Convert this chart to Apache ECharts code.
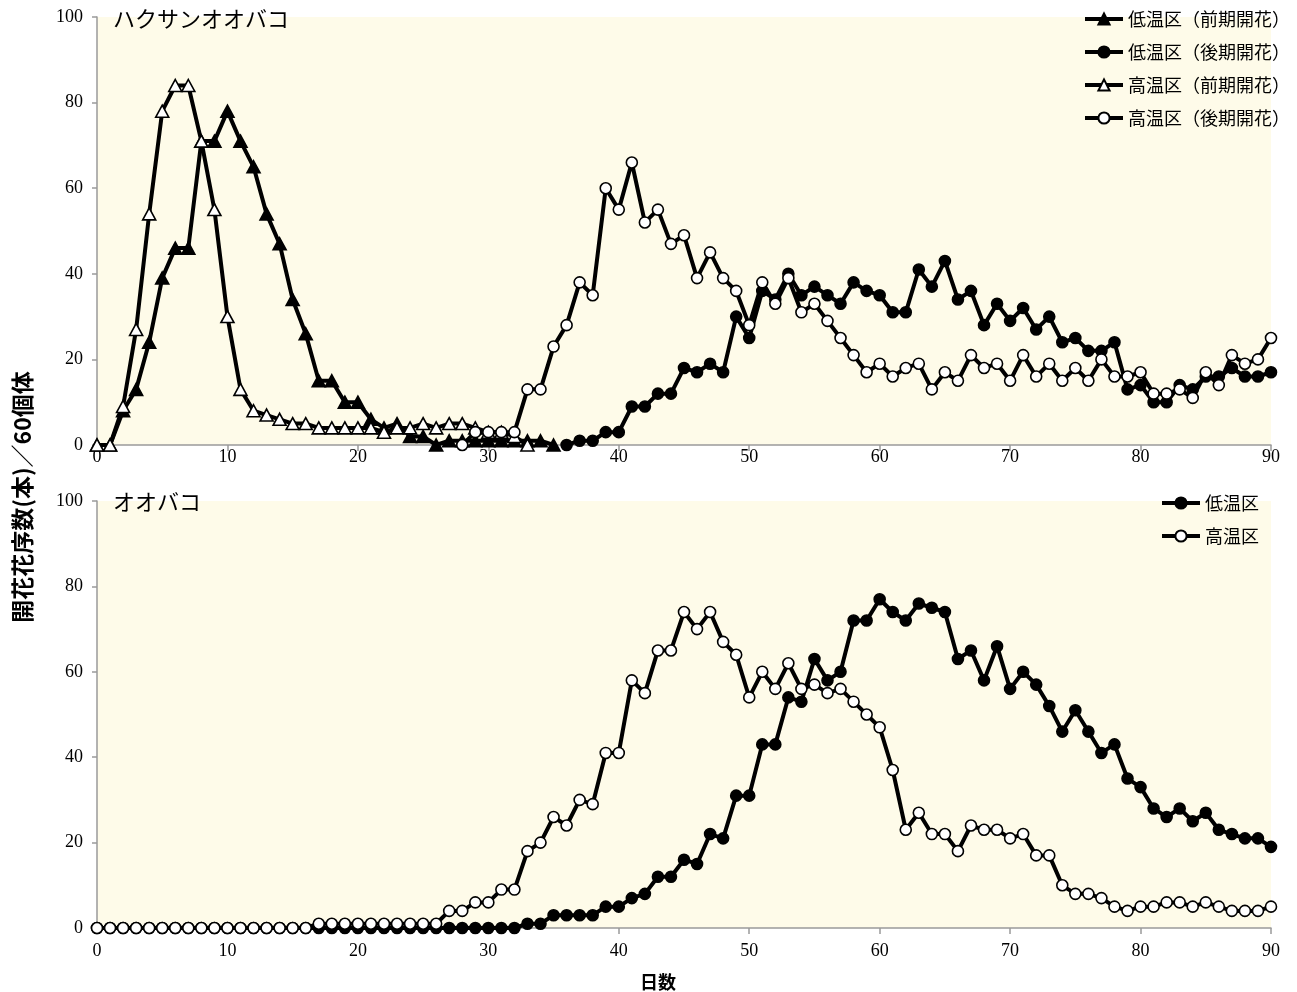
<!DOCTYPE html>
<html>
<head>
<meta charset="utf-8">
<title>開花花序数の推移</title>
<script src="https://cdn.jsdelivr.net/npm/echarts@6/dist/echarts.min.js"></script>
<style>
  html, body { margin: 0; padding: 0; background: #ffffff; }
  #chart { width: 1297px; height: 992px; }
</style>
</head>
<body>
<div id="chart"></div>
<script>
// ---- ハクサンオオバコ: flowering counts per day (start day + daily values) ----
const hakuLowEarlyStart = 0;
const hakuLowEarly = [0,0,8,13,24,39,46,46,71,71, 78,71,65,54,47,34,26,15,15,10,
                      10,6,4,5,2,2,0,1,1,1, 1,1,1,1,1,0];
const hakuLowLateStart = 36;
const hakuLowLate = [0,1,1,3,3,9,9,12,12,18, 17,19,17,30,25,36,34,40,35,37,
                     35,33,38,36,35,31,31,41,37,43, 34,36,28,33,29,32,27,30,24,25,
                     22,22,24,13,14,10,10,14,13,16, 16,18,16,16,17];
const hakuHighEarlyStart = 0;
const hakuHighEarly = [0,0,9,27,54,78,84,84,71,55, 30,13,8,7,6,5,5,4,4,4,
                       4,4,3,4,4,5,4,5,5,4, 3,3,2,0];
const hakuHighLateStart = 28;
const hakuHighLate = [0,3,3,3,3,13,13,23,28,38, 35,60,55,66,52,55,47,49,39,45,
                      39,36,28,38,33,39,31,33,29,25, 21,17,19,16,18,19,13,17,15,21,
                      18,19,15,21,16,19,15,18,15,20, 16,16,17,12,12,13,11,17,14,21,
                      19,20,25];

// ---- オオバコ: flowering counts per day, day 0 to 90 ----
const ooLowStart = 0;
const ooLow = [0,0,0,0,0,0,0,0,0,0, 0,0,0,0,0,0,0,0,0,0,
               0,0,0,0,0,0,0,0,0,0, 0,0,0,1,1,3,3,3,3,5,
               5,7,8,12,12,16,15,22,21,31, 31,43,43,54,53,63,58,60,72,72,
               77,74,72,76,75,74,63,65,58,66, 56,60,57,52,46,51,46,41,43,35,
               33,28,26,28,25,27,23,22,21,21, 19];
const ooHighStart = 0;
const ooHigh = [0,0,0,0,0,0,0,0,0,0, 0,0,0,0,0,0,0,1,1,1,
                1,1,1,1,1,1,1,4,4,6, 6,9,9,18,20,26,24,30,29,41,
                41,58,55,65,65,74,70,74,67,64, 54,60,56,62,56,57,55,56,53,50,
                47,37,23,27,22,22,18,24,23,23, 21,22,17,17,10,8,8,7,5,4,
                5,5,6,6,5,6,5,4,4,4, 5];

// ---- labels ----
const topTitle = 'ハクサンオオバコ';
const bottomTitle = 'オオバコ';
const topNames = ['低温区（前期開花）', '低温区（後期開花）', '高温区（前期開花）', '高温区（後期開花）'];
const bottomNames = ['低温区', '高温区'];
const yTitle = '開花花序数(本)／60個体';
const xTitle = '日数';

const serif = '"Liberation Serif", "DejaVu Serif", serif';
const cjk = '"Noto Sans CJK JP", sans-serif';

function toPoints(start, values) {
  return values.map((v, i) => [start + i, v]);
}

function makeSeries(name, start, values, axis, symbol, filled) {
  const tri = symbol === 'triangle';
  return {
    type: 'line',
    name: name,
    xAxisIndex: axis,
    yAxisIndex: axis,
    data: toPoints(start, values),
    symbol: symbol,
    symbolSize: tri ? [13, 12] : 11,
    showAllSymbol: true,
    itemStyle: { color: filled ? '#000000' : '#ffffff', borderColor: '#000000', borderWidth: 1.6 },
    lineStyle: { color: '#000000', width: 4 },
    emphasis: { disabled: true },
    animation: false,
    z: 3
  };
}

function xAxisDef(grid, margin) {
  return {
    type: 'value', gridIndex: grid, min: 0, max: 90, interval: 10,
    axisLine: { show: true, onZero: false, lineStyle: { color: '#9a9a9a', width: 1.5 } },
    axisTick: { show: true, length: 6, lineStyle: { color: '#9a9a9a', width: 1.5 } },
    axisLabel: { color: '#000', fontFamily: serif, fontSize: 18, margin: margin },
    splitLine: { show: false }
  };
}

function yAxisDef(grid) {
  return {
    type: 'value', gridIndex: grid, min: 0, max: 100, interval: 20,
    axisLine: { show: true, lineStyle: { color: '#9a9a9a', width: 1.5 } },
    axisTick: { show: true, length: 5, lineStyle: { color: '#9a9a9a', width: 1.5 } },
    axisLabel: { color: '#000', fontFamily: serif, fontSize: 18, margin: 14 },
    splitLine: { show: false }
  };
}

const legendText = { color: '#000', fontFamily: cjk, fontSize: 18, lineHeight: 20, padding: [0, 0, 0, 0] };
const legendLine = { color: '#000', width: 4 };

const option = {
  backgroundColor: '#ffffff',
  animation: false,
  grid: [
    { left: 97, top: 17, width: 1174, height: 428, show: true, backgroundColor: '#fefbe9', borderWidth: 0 },
    { left: 97, top: 501, width: 1174, height: 427, show: true, backgroundColor: '#fefbe9', borderWidth: 0 }
  ],
  xAxis: [xAxisDef(0, 3), xAxisDef(1, 14)],
  yAxis: [yAxisDef(0), yAxisDef(1)],
  legend: [
    {
      data: topNames, orient: 'vertical', left: 1078, top: 4,
      itemWidth: 38, itemHeight: 14, itemGap: 13, textStyle: legendText,
      lineStyle: legendLine
    },
    {
      data: bottomNames, orient: 'vertical', left: 1155, top: 488,
      itemWidth: 38, itemHeight: 14, itemGap: 13, textStyle: legendText,
      lineStyle: legendLine
    }
  ],
  graphic: [
    { type: 'text', left: 113, top: 8, z: 10,
      style: { text: topTitle, fill: '#000', font: '22px ' + cjk } },
    { type: 'text', left: 113, top: 491, z: 10,
      style: { text: bottomTitle, fill: '#000', font: '22px ' + cjk } },
    { type: 'text', x: 22, y: 497, rotation: Math.PI / 2, z: 10,
      style: { text: yTitle, fill: '#000', font: 'bold 23px ' + cjk, align: 'center', verticalAlign: 'middle' } },
    { type: 'text', x: 658, y: 982, z: 10,
      style: { text: xTitle, fill: '#000', font: 'bold 18px ' + cjk, align: 'center', verticalAlign: 'middle' } }
  ],
  series: [
    makeSeries(topNames[0], hakuLowEarlyStart, hakuLowEarly, 0, 'triangle', true),
    makeSeries(topNames[1], hakuLowLateStart, hakuLowLate, 0, 'circle', true),
    makeSeries(topNames[2], hakuHighEarlyStart, hakuHighEarly, 0, 'triangle', false),
    makeSeries(topNames[3], hakuHighLateStart, hakuHighLate, 0, 'circle', false),
    makeSeries(bottomNames[0], ooLowStart, ooLow, 1, 'circle', true),
    makeSeries(bottomNames[1], ooHighStart, ooHigh, 1, 'circle', false)
  ]
};

const chart = echarts.init(document.getElementById('chart'), null, { renderer: 'canvas' });
chart.setOption(option);
</script>
</body>
</html>
